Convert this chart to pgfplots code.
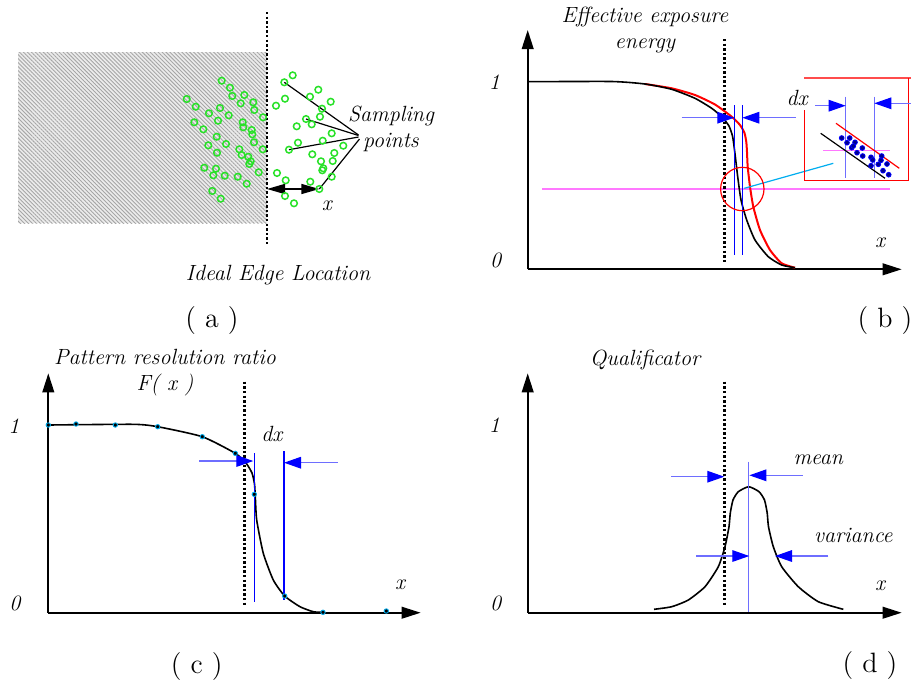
\documentclass[border=0pt]{standalone}
\usepackage{pgfplots}
\pgfplotsset{compat=1.18}
\usetikzlibrary{arrows.meta,patterns.meta}
\definecolor{ptgreen}{RGB}{40,225,40}
\definecolor{lblue}{RGB}{110,110,255}
\definecolor{pmag}{RGB}{255,120,255}
\definecolor{navyd}{RGB}{0,0,140}
\newcommand\lab{\fontsize{11}{13.3}\selectfont\itshape}
\newcommand\plab{\fontsize{14}{16}\selectfont}
\pgfplotsset{
  panel/.style={hide axis, scale only axis, clip=false, y dir=reverse, anchor=north west},
  ax/.style={black, line width=1pt, -{Triangle[length=9.5pt,width=5.8pt]}},
  barr/.style={lblue, line width=0.6pt, -{Triangle[length=8.5pt,width=5.8pt,color=blue]}},
  edge/.style={black, line width=1.3pt, dash pattern=on 1.2pt off 1.1pt},
  crv/.style={smooth, tension=0.35},
}
\begin{document}
\begin{tikzpicture}
\path[use as bounding box] (0pt,0pt) rectangle (455.5pt,-343pt);
% ---------------- (a)
\begin{axis}[panel, at={(0pt,0pt)}, width=227.5pt, height=170pt, xmin=0, xmax=455, ymin=0, ymax=340]
\addplot[draw=none, fill=gray!15, postaction={pattern={Lines[angle=-45,distance=1.4pt,line width=0.45pt]}, pattern color=gray!70}] coordinates {(18,52)(267,52)(267,223)(18,223)};
\addplot[edge] coordinates {(267,12)(267,245)};
\addplot[only marks, mark=o, mark size=1.65pt, ptgreen, mark options={line width=0.75pt}] coordinates {
(221.7,80.7)(230,87.7)(232.3,96)(244.3,95)(186.7,99)(195.7,106.7)(220,108)(209,113.3)(240.7,103.3)(253.3,102.3)
(254.3,110)(228.7,115.3)(263,117.3)(218,120.7)(194.3,122.3)(242.7,122.3)(243.3,127.3)(203.3,129.3)(251.7,130)(252.3,134.3)
(216.7,136.7)(254,142.3)(226,144)(208.3,145.3)(262.7,149.3)(239.3,149.3)(217,152.7)(241.7,155)(248.3,156.7)(250.7,161.3)
(249.3,164)(204.3,167.7)(216,168.7)(213.3,175.3)(224.7,175.7)(237.7,176.7)(258.7,172.3)(246.7,183.7)(212.3,191)(220.7,198.7)
(292.7,75.3)(284.3,82.3)(318.3,89.7)(310,96.7)(330.7,101.7)(285,98.7)(276,105.7)(322,108.7)(306,119)(320,116.7)
(311.7,124.3)(296.7,126.3)(331.7,133.3)(322.7,140.7)(298,142.7)(289,149.7)(343.3,145.7)(334.3,153)(312.3,154.3)(321,161.3)
(332.7,161)(323.3,168.3)(322.3,170.3)(331.7,176.7)(277,173)(285.7,180.3)(310.3,181.7)(319.3,189)(285,196)(294,203.3)};
\addplot[black, line width=0.6pt] coordinates {(284.3,82.3)(358.5,135)};
\addplot[black, line width=0.6pt] coordinates {(306,119)(358.5,135.5)};
\addplot[black, line width=0.6pt] coordinates {(289,149.7)(358.5,137)};
\addplot[black, line width=0.6pt] coordinates {(319.3,189)(359.5,139)};
\addplot[black, line width=0.8pt, {Triangle[length=9pt,width=5pt]}-{Triangle[length=9pt,width=5pt]}] coordinates {(267,189)(319.3,189)};
\node[font=\lab] at (axis cs:391,116) {Sampling};
\node[font=\lab] at (axis cs:391,142) {points};
\node[font=\lab] at (axis cs:326.7,206) {x};
\node[font=\lab] at (axis cs:278,275) {Ideal Edge Location};
\node[font=\plab] at (axis cs:212,321) {( a )};
\end{axis}
% ---------------- (b)
\begin{axis}[panel, at={(227.5pt,0pt)}, width=228pt, height=170pt, xmin=455, xmax=911, ymin=0, ymax=340]
\addplot[ax] coordinates {(527.7,269.3)(527.7,30)};
\addplot[ax] coordinates {(527.7,269.3)(901.7,269.3)};
\addplot[pmag, line width=0.75pt] coordinates {(542.3,189)(890,189)};
\addplot[red, line width=1pt, crv] coordinates {
(645,84)(671.7,88.3)(695,95)(715,104.5)(731.7,116.7)(740,125)(744.5,133)(746.3,142)(747,152)(747.7,166.7)
(750,186.7)(753.3,206.7)(760,230)(770,250)(781.7,263.3)(795,267.7)};
\addplot[black, line width=0.8pt, crv] coordinates {
(527.7,81.7)(611.7,81.5)(645,84)(671.7,89.3)(695,98.3)(711.7,108.3)(722,117)(729,126)(732.5,136)(734,146)(735.5,158)
(737.7,176.7)(741,200)(746.7,220)(755,240)(768.3,256.7)(781.7,265)(795,267.7)};
\addplot[edge] coordinates {(724.3,39)(724.3,263)};
\addplot[blue, line width=0.6pt] coordinates {(734.3,105)(734.3,255)};
\addplot[blue, line width=0.6pt] coordinates {(742.3,105)(742.3,255)};
\addplot[barr] coordinates {(681.7,117.7)(734.3,117.7)};
\addplot[barr] coordinates {(795.7,117.7)(742.3,117.7)};
\addplot[only marks, mark=o, mark size=10.85pt, red, mark options={line width=0.6pt}] coordinates {(742.3,189)};
\addplot[cyan, line width=0.6pt] coordinates {(744.3,188.3)(833.3,163.3)};
% inset
\addplot[red!70, line width=0.8pt] coordinates {(804.3,77.7)(911,77.7)};
\addplot[red, line width=0.8pt] coordinates {(804.3,110)(804.3,180.3)(908.3,180.3)(908.3,77.7)};
\addplot[pmag, line width=0.75pt] coordinates {(823.3,150.7)(890,150.7)};
\addplot[lblue, line width=0.7pt] coordinates {(845.7,96.7)(845.7,178.3)};
\addplot[lblue, line width=0.7pt] coordinates {(874.3,96.7)(874.3,178.3)};
\addplot[barr] coordinates {(815,105.7)(845.7,105.7)};
\addplot[barr] coordinates {(911,103.3)(874.3,103.3)};
\addplot[black, line width=0.6pt] coordinates {(820.7,133.3)(885,178.3)};
\addplot[red, line width=0.6pt] coordinates {(836,123.3)(899.3,168.3)};
\addplot[only marks, mark=*, mark size=1.2pt, mark options={fill=navyd, draw=blue, line width=0.4pt}] coordinates {
(841.7,138)(849.7,138)(847,142.7)(855,142.3)(851.7,147.7)(862.3,148)(857,152.7)(862.7,156)(871,157.3)
(872.7,160)(881.7,156)(881,160.3)(871,165.7)(878.3,164.3)(887,164)(883,170.7)(888.7,174.7)(853.3,146)};
\node[font=\lab] at (axis cs:494.3,81.7) {1};
\node[font=\lab] at (axis cs:495.7,260) {0};
\node[font=\lab] at (axis cs:880,242.7) {x};
\node[font=\lab] at (axis cs:797,98) {dx};
\node[font=\lab, align=center] at (axis cs:645,30) {Effective exposure\\energy};
\node[font=\plab] at (axis cs:885,321) {( b )};
\end{axis}
% ---------------- (c)
\begin{axis}[panel, at={(0pt,-170pt)}, width=227.5pt, height=173pt, xmin=0, xmax=455, ymin=340, ymax=686]
\addplot[ax] coordinates {(48.3,612.7)(48.3,373.3)};
\addplot[ax] coordinates {(48.3,612.7)(420.7,612.7)};
\addplot[black, line width=0.8pt, crv] coordinates {
(48.3,425)(133.3,424.3)(157.7,426.7)(202.3,436.7)(235.3,453.3)(246,463)(252,473)(254.5,484)(255.3,496.7)
(256.7,520)(263.3,553.3)(273.3,580)(284.7,596)(300,606.7)(313.3,611.7)(323,612.3)};
\addplot[edge] coordinates {(244.3,381.7)(244.3,605.7)};
\addplot[blue, line width=0.6pt] coordinates {(254.3,453.3)(254.3,602.3)};
\addplot[blue, line width=0.6pt] coordinates {(284,451)(284,600)};
\addplot[barr] coordinates {(199.3,461)(253.3,461)};
\addplot[barr] coordinates {(337.7,462.7)(284,462.7)};
\addplot[only marks, mark=*, mark size=1.1pt, mark options={fill=black, draw=cyan, line width=0.45pt}] coordinates {
(48.3,425)(76,424)(115.3,425)(157.7,426.7)(202.3,436.7)(235.3,453.3)(254.3,494.3)(284.7,596)(323,612.3)(386.3,611)};
\node[font=\lab] at (axis cs:14,426) {1};
\node[font=\lab] at (axis cs:15,603.3) {0};
\node[font=\lab, align=center] at (axis cs:165,372.7) {Pattern resolution ratio\\F( x )};
\node[font=\lab] at (axis cs:271.7,434) {dx};
\node[font=\lab] at (axis cs:400,585) {x};
\node[font=\plab] at (axis cs:196.7,666) {( c )};
\end{axis}
% ---------------- (d)
\begin{axis}[panel, at={(227.5pt,-170pt)}, width=228pt, height=173pt, xmin=455, xmax=911, ymin=340, ymax=686]
\addplot[ax] coordinates {(527.7,612.7)(527.7,373.3)};
\addplot[ax] coordinates {(527.7,612.7)(901.7,612.7)};
\addplot[black, line width=0.8pt, crv] coordinates {
(654,609.3)(671.7,606.7)(688.3,600)(705,586.7)(718.3,566.7)(725,546.7)(729,526.7)(730.3,513)(733,500)
(738.3,491.7)(748.7,486.7)(759,491.7)(764.5,500)(767.2,513)(768.5,526.7)(773.3,546.7)(781.7,566.7)
(798.3,586.7)(818.3,601.7)(843.3,609.3)};
\addplot[edge] coordinates {(724.3,381.7)(724.3,605.7)};
\addplot[lblue, line width=0.7pt] coordinates {(748.7,461.7)(748.7,611.7)};
\addplot[barr] coordinates {(671,476.7)(724.3,476.7)};
\addplot[barr] coordinates {(802.7,475.3)(749.3,475.3)};
\addplot[barr] coordinates {(696,556)(749.3,556)};
\addplot[barr] coordinates {(828.3,556)(775,556)};
\node[font=\lab] at (axis cs:494.3,425) {1};
\node[font=\lab] at (axis cs:495.7,603.3) {0};
\node[font=\lab] at (axis cs:645,360) {Qualificator};
\node[font=\lab] at (axis cs:818.3,460) {mean};
\node[font=\lab] at (axis cs:853.3,535) {variance};
\node[font=\lab] at (axis cs:880,586) {x};
\node[font=\plab] at (axis cs:870,665) {( d )};
\end{axis}
\end{tikzpicture}
\end{document}
